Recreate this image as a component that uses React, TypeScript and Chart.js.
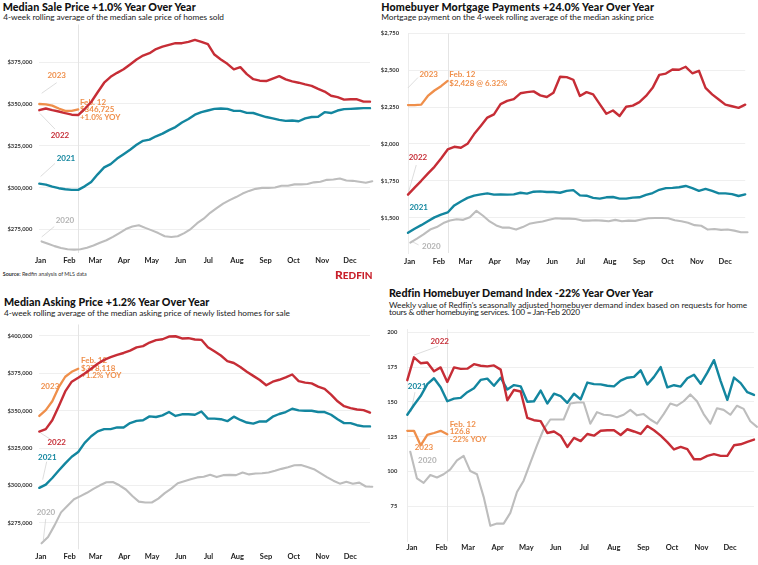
import React, { useEffect, useLayoutEffect, useRef } from "react";
import { Chart, registerables } from "chart.js";
Chart.register(...registerables);

const FONT = "Lato, 'Open Sans', sans-serif";
const RED = "#c62d36";
const TEAL = "#13869f";
const GRAY = "#bdbdbd";
const GRAY_TEXT = "#b3b3b3";
const ORANGE = "#ef8f4b";

const MONTHS = ["Jan", "Feb", "Mar", "Apr", "May", "Jun", "Jul", "Aug", "Sep", "Oct", "Nov", "Dec"];
const MONTH_START_DAY = [0, 31, 59, 90, 120, 151, 181, 212, 243, 273, 304, 334];

// ---- Median sale price (weekly, 4-week rolling) ----
const SALE_TICKS = [275000, 300000, 325000, 350000, 375000];
const sale2023 = [350000, 349800, 349000, 347300, 345900, 345900, 346725];
const sale2022 = [346300, 347300, 346300, 345500, 344500, 343600, 343400, 347000, 351200, 357000,
  362700, 366200, 368600, 370700, 373600, 376600, 378900, 380300, 382800, 384200,
  385300, 386300, 386300, 387100, 388300, 387100, 385700, 379500, 376600, 374000,
  370700, 372000, 367800, 364800, 363900, 363700, 365200, 366600, 364700, 363500,
  362700, 361700, 360800, 359000, 357400, 354900, 354100, 352600, 352800, 352800,
  351400, 351400];
const sale2021 = [302400, 301800, 300600, 299700, 299100, 298700, 298700, 300800, 303400, 308000,
  312100, 314100, 317400, 320000, 322700, 325600, 328000, 328700, 330700, 332300,
  334400, 336200, 338900, 341000, 343600, 345100, 346100, 347100, 347300, 347100,
  345900, 345900, 344700, 344600, 343400, 342200, 341400, 340500, 339900, 340100,
  339700, 341400, 342200, 342400, 345100, 344600, 346100, 346900, 347100, 347300,
  347500, 347500];
const sale2020 = [267900, 266500, 265100, 264000, 263200, 263000, 263200, 264200, 265500, 267100,
  268600, 270600, 272900, 275300, 276800, 277600, 276000, 274500, 272900, 271000,
  270600, 271000, 272900, 275300, 278800, 281500, 285000, 287800, 290500, 292600,
  294400, 296500, 298100, 299300, 299900, 299900, 300100, 301200, 301200, 302000,
  302000, 302200, 303200, 303600, 304700, 304900, 305500, 304300, 304100, 303600,
  303000, 303800];

// ---- Mortgage payments ----
const MORTGAGE_TICKS = [1500, 1750, 2000, 2250, 2500, 2750];
const mortgage2023 = [2264, 2264, 2267, 2326, 2363, 2392, 2428];
const mortgage2022 = [1656, 1704, 1750, 1799, 1845, 1902, 1963, 1981, 1974, 2001,
  2067, 2122, 2179, 2201, 2271, 2293, 2304, 2344, 2352, 2357,
  2330, 2319, 2348, 2456, 2454, 2436, 2326, 2352, 2337, 2271,
  2205, 2227, 2190, 2253, 2260, 2284, 2326, 2381, 2469, 2478,
  2506, 2504, 2524, 2480, 2497, 2381, 2337, 2302, 2267, 2256,
  2245, 2267];
const mortgage2021 = [1397, 1425, 1449, 1476, 1502, 1520, 1535, 1583, 1610, 1634,
  1649, 1658, 1665, 1656, 1658, 1656, 1658, 1669, 1663, 1676,
  1678, 1674, 1674, 1669, 1682, 1687, 1651, 1649, 1634, 1629,
  1638, 1640, 1629, 1629, 1636, 1638, 1654, 1667, 1689, 1700,
  1702, 1706, 1715, 1700, 1682, 1695, 1682, 1665, 1665, 1660,
  1647, 1658];
const mortgage2020 = [1331, 1357, 1386, 1419, 1436, 1463, 1480, 1489, 1485, 1502,
  1546, 1513, 1474, 1447, 1432, 1432, 1419, 1436, 1458, 1467,
  1474, 1485, 1496, 1493, 1493, 1491, 1480, 1480, 1482, 1480,
  1476, 1485, 1476, 1480, 1478, 1487, 1496, 1498, 1498, 1496,
  1482, 1476, 1465, 1449, 1445, 1419, 1423, 1417, 1419, 1412,
  1401, 1401];

// ---- Median asking price ----
const ASK_TICKS = [275000, 300000, 325000, 350000, 375000, 400000];
const ask2023 = [346500, 350400, 356300, 365700, 372700, 376000, 378118];
const ask2022 = [336000, 337700, 343600, 353000, 362900, 369400, 372000, 374900, 378100, 381400,
  384000, 385800, 387300, 388600, 390200, 392400, 393200, 395600, 397200, 397800,
  399600, 399800, 398300, 398500, 397600, 397400, 392400, 389700, 386900, 383200,
  381900, 379200, 376000, 373300, 370500, 367000, 369400, 370700, 372300, 374200,
  369800, 368800, 368300, 366100, 364600, 360700, 356300, 353000, 351700, 350800,
  350400, 348700];
const ask2021 = [298400, 300600, 305000, 310000, 314800, 319200, 322400, 328500, 332900, 336200,
  337700, 337700, 338800, 338800, 341700, 343200, 343600, 346200, 345800, 346900,
  349100, 346500, 347600, 347600, 347300, 349500, 344700, 344700, 344300, 343000,
  346000, 343800, 342100, 341400, 342800, 342800, 346000, 347800, 349100, 351300,
  350200, 350000, 350000, 349100, 349100, 347300, 344300, 341700, 341700, 340300,
  339500, 339500];
const ask2020 = [261300, 265600, 273300, 282000, 286400, 290800, 292900, 295100, 297700, 300100,
  302100, 302300, 300100, 297300, 292900, 289200, 288600, 288600, 291200, 294900,
  297900, 301500, 302800, 304100, 305400, 305800, 307100, 305600, 306900, 307100,
  306900, 308700, 307400, 308000, 308200, 308700, 309800, 311100, 312200, 313500,
  313700, 312400, 310900, 308200, 305600, 303200, 301200, 302500, 301200, 301900,
  299300, 299100];

// ---- Demand index ----
const DEMAND_TICKS = [75, 100, 125, 150, 175, 200];
const demand2023 = [129.3, 129.3, 118.9, 126.3, 127.7, 129.3, 126.8];
const demand2022 = [165.6, 182, 177.8, 178.3, 172, 174.8, 164.4, 174.8, 173.7, 173.9,
  177.1, 176, 175.5, 176.2, 173.2, 151.2, 158.6, 157.5, 138.5, 136.9,
  136.2, 127.7, 128.8, 125.8, 117.7, 124.2, 121.9, 127, 125.8, 129.3,
  129.7, 129.7, 126.3, 130.4, 128.8, 127, 132.8, 129.7, 125.8, 121.2,
  115.9, 117.7, 116.1, 108.9, 108.9, 111.3, 112.6, 111.3, 111.3, 118.9,
  119.6, 121.4, 123];
const demand2021 = [140.8, 147.8, 154.2, 162.8, 167, 160.5, 150.5, 152.4, 152.9, 157,
  159.8, 165.8, 166.7, 161.6, 167.4, 158.9, 162.1, 161.2, 150.1, 150.5,
  158.2, 148.9, 155.9, 154.2, 149.4, 155.9, 151.9, 163.9, 162.8, 162.6,
  161.6, 161.2, 165.3, 167.4, 168, 172.7, 162.5, 168, 175, 160.5,
  162, 161, 167, 169.5, 163, 171, 180, 165, 151.5, 167.5,
  163.5, 157, 155];
const demand2020 = [114.3, 95.1, 91.9, 97.6, 95.8, 98.1, 101.6, 108, 111.3, 100.4,
  98.1, 81.9, 61.1, 62.7, 62.7, 70.4, 85.4, 93.5, 106.2, 118.9,
  130.4, 137.4, 137.4, 137.4, 148.9, 149.6, 149.6, 134.4, 142.7, 140.8,
  140.4, 139, 140.8, 144.3, 140.4, 141.3, 137.4, 134.4, 141.3, 148.9,
  147.3, 150.5, 155.4, 150.5, 141.3, 134.4, 145.5, 144.3, 140.8, 147.3,
  145, 136.2, 132.1];

const dollars = (v: number) => "$" + v.toLocaleString("en-US");
const plain = (v: number) => String(v);

type Series = { label: string; data: number[]; color: string; width: number; shift?: number };
type Note = { lines: string[]; x: number; y: number; color: string; align?: CanvasTextAlign; gap?: number };
type Leader = [number, number, number, number];
type PanelSpec = {
  box: { left: number; top: number; width: number; height: number };
  padTop: number; padRight: number; yAxisWidth: number; yPad: number; xAxisHeight: number; xPad: number;
  xMax: number; monthOffset: number; yMin: number; yMax: number; yTicks: number[]; yFmt: (v: number) => string;
  today: number; todayUp: number; border: boolean; series: Series[]; notes: Note[]; leaders: Leader[];
};

function notesPlugin(spec: PanelSpec) {
  return {
    id: "notes",
    beforeDatasetsDraw(chart: any) {
      const { ctx, chartArea } = chart;
      const xs = chart.scales.x;
      const ys = chart.scales.y;
      ctx.save();
      const tx = Math.round(xs.getPixelForValue(spec.today)) + 0.5;
      ctx.strokeStyle = "#e4e4e4";
      ctx.lineWidth = 1;
      ctx.beginPath();
      ctx.moveTo(tx, chartArea.top - spec.todayUp);
      ctx.lineTo(tx, chartArea.bottom);
      ctx.stroke();
      ctx.strokeStyle = "#cfcfcf";
      ctx.lineWidth = 0.7;
      for (const [x1, y1, x2, y2] of spec.leaders) {
        ctx.beginPath();
        ctx.moveTo(xs.getPixelForValue(x1), ys.getPixelForValue(y1));
        ctx.lineTo(xs.getPixelForValue(x2), ys.getPixelForValue(y2));
        ctx.stroke();
      }
      ctx.textBaseline = "middle";
      for (const n of spec.notes) {
        ctx.font = `700 8px ${FONT}`;
        ctx.fillStyle = n.color;
        ctx.textAlign = n.align || "center";
        const px = xs.getPixelForValue(n.x);
        const py = ys.getPixelForValue(n.y);
        n.lines.forEach((t, i) => ctx.fillText(t, px, py + i * (n.gap || 8)));
      }
      ctx.restore();
    },
  };
}

function ChartPanel({ spec }: { spec: PanelSpec }) {
  const ref = useRef<HTMLCanvasElement>(null);
  useEffect(() => {
    const canvas = ref.current;
    if (!canvas) return;
    const chart = new Chart(canvas, {
      type: "line",
      data: {
        datasets: spec.series.map((s) => ({
          label: s.label,
          data: s.data.map((v, i) => ({ x: i + (s.shift || 0), y: v })),
          borderColor: s.color,
          backgroundColor: s.color,
          borderWidth: s.width,
          pointRadius: 0,
          pointHoverRadius: 0,
          fill: false,
          tension: 0,
          clip: false as any,
          borderJoinStyle: "round" as const,
          borderCapStyle: "round" as const,
        })),
      },
      options: {
        animation: false,
        responsive: false,
        maintainAspectRatio: false,
        events: [],
        layout: { padding: { top: spec.padTop, right: spec.padRight, left: 0, bottom: 0 } },
        plugins: { legend: { display: false }, tooltip: { enabled: false } },
        scales: {
          x: {
            type: "linear",
            min: 0,
            max: spec.xMax,
            grid: { display: false, drawTicks: false },
            border: { display: false },
            afterBuildTicks: (ax: any) => {
              ax.ticks = MONTH_START_DAY.map((d) => ({ value: d / 7 + spec.monthOffset }));
            },
            afterFit: (ax: any) => {
              ax.height = spec.xAxisHeight;
            },
            ticks: {
              autoSkip: false,
              maxRotation: 0,
              padding: spec.xPad,
              color: "#222",
              font: { family: FONT, size: 7.5, weight: "bold", lineHeight: 1 },
              callback: (_v: any, i: number) => MONTHS[i],
            },
          },
          y: {
            type: "linear",
            min: spec.yMin,
            max: spec.yMax,
            grid: { color: "#efefef", lineWidth: 1, drawTicks: false },
            border: { display: spec.border, color: "#ececec" },
            afterBuildTicks: (ax: any) => {
              ax.ticks = spec.yTicks.map((v) => ({ value: v }));
            },
            afterFit: (ax: any) => {
              ax.width = spec.yAxisWidth;
            },
            ticks: {
              padding: spec.yPad,
              color: "#333",
              font: { family: FONT, size: 5.8, weight: "bold", lineHeight: 1.2 },
              callback: (v: any) => spec.yFmt(Number(v)),
            },
          },
        },
      } as any,
      plugins: [notesPlugin(spec)],
    });
    return () => chart.destroy();
  }, []);
  return (
    <canvas
      ref={ref}
      width={spec.box.width}
      height={spec.box.height}
      style={{ position: "absolute", left: spec.box.left, top: spec.box.top, width: spec.box.width, height: spec.box.height }}
    />
  );
}

function FitText(props: { text: string; left: number; top: number; size: number; weight: number; width: number; color: string }) {
  const ref = useRef<HTMLDivElement>(null);
  useLayoutEffect(() => {
    const el = ref.current;
    if (!el) return;
    el.style.letterSpacing = "0px";
    const w = el.getBoundingClientRect().width;
    const n = props.text.length;
    el.style.letterSpacing = `${(props.width - w) / Math.max(1, n - 1)}px`;
  }, []);
  return (
    <div
      ref={ref}
      style={{
        position: "absolute",
        left: props.left,
        top: props.top,
        fontFamily: FONT,
        fontSize: props.size,
        fontWeight: props.weight,
        lineHeight: `${props.size}px`,
        color: props.color,
        whiteSpace: "nowrap",
      }}
    >
      {props.text}
    </div>
  );
}

const PANEL_SALE: PanelSpec = {
  box: { left: 0, top: 22, width: 374, height: 247 },
  padTop: 6, padRight: 4, yAxisWidth: 39.3, yPad: 7, xAxisHeight: 16, xPad: 4,
  xMax: 51, monthOffset: 0.2, yMin: 261000, yMax: 392700, yTicks: SALE_TICKS, yFmt: dollars,
  today: 6, todayUp: 8, border: false,
  series: [
    { label: "2023", data: sale2023, color: ORANGE, width: 2.3 },
    { label: "2022", data: sale2022, color: RED, width: 2.4 },
    { label: "2021", data: sale2021, color: TEAL, width: 2.4 },
    { label: "2020", data: sale2020, color: GRAY, width: 2.1, shift: 0.35 },
  ],
  notes: [
    { lines: ["2023"], x: 2.68, y: 367200, color: ORANGE },
    { lines: ["2022"], x: 3.19, y: 331100, color: RED },
    { lines: ["2021"], x: 4.11, y: 317400, color: TEAL },
    { lines: ["2020"], x: 3.96, y: 280300, color: GRAY_TEXT },
    { lines: ["Feb. 12", "$346,725", "+1.0% YOY"], x: 6.27, y: 351200, color: ORANGE, align: "left", gap: 7.7 },
  ],
  leaders: [
    [0.37, 356400, 2.68, 362700],
    [0.1, 344300, 2.42, 335000],
    [0.2, 306700, 2.42, 314500],
    [0.37, 270600, 2.31, 276800],
  ],
};

const PANEL_MORTGAGE: PanelSpec = {
  box: { left: 378, top: 21, width: 371, height: 248 },
  padTop: 6, padRight: 3.8, yAxisWidth: 30, yPad: 9, xAxisHeight: 16, xPad: 5,
  xMax: 51, monthOffset: 0.25, yMin: 1260, yMax: 2750, yTicks: MORTGAGE_TICKS, yFmt: dollars,
  today: 6, todayUp: 0, border: true,
  series: [
    { label: "2023", data: mortgage2023, color: ORANGE, width: 2.3 },
    { label: "2022", data: mortgage2022, color: RED, width: 2.4 },
    { label: "2021", data: mortgage2021, color: TEAL, width: 2.4 },
    { label: "2020", data: mortgage2020, color: GRAY, width: 2.1, shift: 0.35 },
  ],
  notes: [
    { lines: ["2023"], x: 3.13, y: 2475, color: ORANGE },
    { lines: ["Feb. 12", "$2,428 @ 6.32%"], x: 6.24, y: 2469, color: ORANGE, align: "left", gap: 8.3 },
    { lines: ["2022"], x: 1.51, y: 1906, color: RED },
    { lines: ["2021"], x: 1.62, y: 1572, color: TEAL },
    { lines: ["2020"], x: 3.52, y: 1308, color: GRAY_TEXT },
  ],
  leaders: [
    [0, 2381, 1.51, 2451],
    [0.1, 1677, 1.25, 1857],
    [0.5, 1340, 1.6, 1315],
  ],
};

const PANEL_ASK: PanelSpec = {
  box: { left: 0, top: 315, width: 374, height: 250 },
  padTop: 6, padRight: 4, yAxisWidth: 39.3, yPad: 7, xAxisHeight: 15.7, xPad: 3.65,
  xMax: 51, monthOffset: 0.25, yMin: 257300, yMax: 407000, yTicks: ASK_TICKS, yFmt: dollars,
  today: 6, todayUp: 1, border: false,
  series: [
    { label: "2023", data: ask2023, color: ORANGE, width: 2.3 },
    { label: "2022", data: ask2022, color: RED, width: 2.4 },
    { label: "2021", data: ask2021, color: TEAL, width: 2.4 },
    { label: "2020", data: ask2020, color: GRAY, width: 2.1, shift: 0.35 },
  ],
  notes: [
    { lines: ["Feb. 12", "$378,118", "+1.2% YOY"], x: 6.43, y: 383600, color: ORANGE, align: "left", gap: 7.5 },
    { lines: ["2023"], x: 1.65, y: 366200, color: ORANGE },
    { lines: ["2022"], x: 2.68, y: 329000, color: RED },
    { lines: ["2021"], x: 1.23, y: 318700, color: TEAL },
    { lines: ["2020"], x: 1.03, y: 282200, color: GRAY_TEXT },
  ],
  leaders: [
    [0.2, 335100, 1.65, 331100],
    [0.52, 303900, 1.14, 315900],
    [0.62, 263400, 0.99, 277600],
  ],
};

const PANEL_DEMAND: PanelSpec = {
  box: { left: 378, top: 316, width: 380, height: 241 },
  padTop: 6, padRight: 4, yAxisWidth: 29.3, yPad: 10, xAxisHeight: 15.7, xPad: 2.65,
  xMax: 52, monthOffset: 0.7, yMin: 50, yMax: 202, yTicks: DEMAND_TICKS, yFmt: plain,
  today: 6, todayUp: 0, border: true,
  series: [
    { label: "2023", data: demand2023, color: ORANGE, width: 2.3 },
    { label: "2022", data: demand2022, color: RED, width: 2.4 },
    { label: "2021", data: demand2021, color: TEAL, width: 2.4 },
    { label: "2020", data: demand2020, color: GRAY, width: 2.1, shift: 0.45 },
  ],
  notes: [
    { lines: ["2022"], x: 4.86, y: 193.6, color: RED },
    { lines: ["2021"], x: 1.46, y: 161.2, color: TEAL },
    { lines: ["Feb. 12", "126.8", "-22% YOY"], x: 6.36, y: 134, color: ORANGE, align: "left", gap: 7.5 },
    { lines: ["2023"], x: 2.5, y: 117.3, color: ORANGE },
    { lines: ["2020"], x: 3, y: 108.1, color: GRAY_TEXT },
  ],
  leaders: [
    [1.0, 183.6, 4.6, 189.9],
    [0.55, 142.8, 1.15, 157],
  ],
};

export default function App() {
  return (
    <div style={{ position: "absolute", left: 0, top: 0, width: 758, height: 565, background: "#fff", overflow: "hidden" }}>
      <FitText text="Median Sale Price +1.0% Year Over Year" left={2.7} top={1.5} size={10.7} weight={900} width={193} color="#111" />
      <FitText text="4-week rolling average of the median sale price of homes sold" left={3.3} top={12.6} size={8.3} weight={400} width={220.7} color="#222" />
      <FitText text="Homebuyer Mortgage Payments +24.0% Year Over Year" left={381.3} top={1.5} size={10.7} weight={900} width={272.7} color="#111" />
      <FitText text="Mortgage payment on the 4-week rolling average of the median asking price" left={381.3} top={12.6} size={8.3} weight={400} width={272.7} color="#222" />
      <FitText text="Median Asking Price +1.2% Year Over Year" left={4} top={297.2} size={10.7} weight={900} width={205.3} color="#111" />
      <FitText text="4-week rolling average of the median asking price of newly listed homes for sale" left={4} top={309.3} size={8.3} weight={400} width={286} color="#222" />
      <FitText text="Redfin Homebuyer Demand Index -22% Year Over Year" left={389} top={288} size={10.7} weight={900} width={264} color="#111" />
      <FitText text="Weekly value of Redfin's seasonally adjusted homebuyer demand index based on requests for home" left={389} top={300.8} size={8.3} weight={400} width={358} color="#222" />
      <FitText text="tours & other homebuying services. 100 = Jan-Feb 2020" left={389} top={308.4} size={8.3} weight={400} width={191} color="#222" />
      <ChartPanel spec={PANEL_SALE} />
      <ChartPanel spec={PANEL_MORTGAGE} />
      <ChartPanel spec={PANEL_ASK} />
      <ChartPanel spec={PANEL_DEMAND} />
      <div style={{ position: "absolute", left: 2.7, top: 271, fontFamily: FONT, fontSize: 5.4, lineHeight: "6px", color: "#333", whiteSpace: "nowrap" }}>
        <b>Source:</b> Redfin analysis of MLS data
      </div>
      <div style={{ position: "absolute", left: 335, top: 268.5, fontFamily: FONT, fontWeight: 900, fontSize: 12, lineHeight: "12px", color: "#c8202b", whiteSpace: "nowrap" }}>
        R<span style={{ fontSize: 10 }}>EDFIN</span>
      </div>
    </div>
  );
}
